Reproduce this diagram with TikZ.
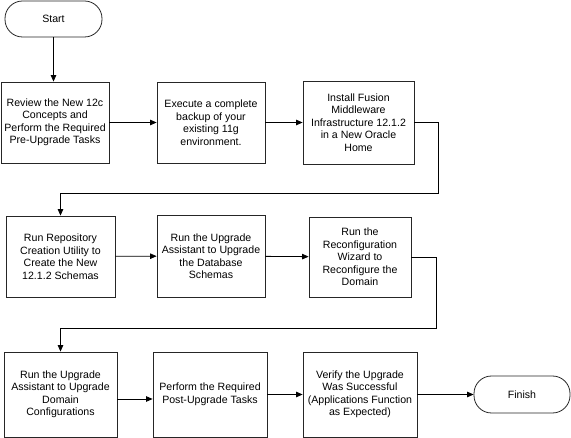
\documentclass[tikz,border=0pt]{standalone}
\usepackage{fontspec}
\setmainfont{Liberation Sans}
\usetikzlibrary{arrows.meta,shadows}
\tikzset{
  stepbox/.style={draw=black!85, line width=0.8pt, fill=white, rectangle, align=center, inner sep=0pt,
    font=\fontsize{10.6}{12.5}\selectfont,
    drop shadow={shadow xshift=1.2pt, shadow yshift=-1.2pt, fill=black!45, opacity=1}},
  term/.style={draw=black!85, line width=0.8pt, fill=white, rectangle, rounded corners=17.5pt, align=center,
    inner sep=0pt, font=\fontsize{10.6}{12.5}\selectfont},
  flow/.style={line width=0.8pt, -{Triangle[length=6.5pt,width=5.5pt]}},
}
\begin{document}
\begin{tikzpicture}[x=1pt,y=-1pt]
\useasboundingbox (0,0) rectangle (571,438);
\node[term, minimum width=97pt, minimum height=36pt] (start) at (53.5,19) {Start};
\node[stepbox, minimum width=108pt, minimum height=81pt] (b1) at (55,122.5) {Review the New 12c\\Concepts and\\Perform the Required\\Pre-Upgrade Tasks};
\node[stepbox, minimum width=108pt, minimum height=81pt] (b2) at (211,122.5) {Execute a complete\\backup of your\\existing 11g\\environment.};
\node[stepbox, minimum width=111pt, minimum height=83pt] (b3) at (358.5,122.5) {Install Fusion\\Middleware\\Infrastructure 12.1.2\\in a New Oracle\\Home};
\node[stepbox, minimum width=109pt, minimum height=81pt] (b4) at (60.5,256.5) {Run Repository\\Creation Utility to\\Create the New\\12.1.2 Schemas};
\node[stepbox, minimum width=108pt, minimum height=82pt] (b5) at (211,256) {Run the Upgrade\\Assistant to Upgrade\\the Database\\Schemas};
\node[stepbox, minimum width=102pt, minimum height=80pt] (b6) at (360,257) {Run the\\Reconfiguration\\Wizard to\\Reconfigure the\\Domain};
\node[stepbox, minimum width=113pt, minimum height=85pt] (b7) at (60.5,394.5) {Run the Upgrade\\Assistant to Upgrade\\Domain\\Configurations};
\node[stepbox, minimum width=114pt, minimum height=85pt] (b8) at (210,394.5) {Perform the Required\\Post-Upgrade Tasks};
\node[stepbox, minimum width=114pt, minimum height=85pt] (b9) at (360,394.5) {Verify the Upgrade\\Was Successful\\(Applications Function\\as Expected)};
\node[term, minimum width=96pt, minimum height=37pt] (finish) at (522,394.5) {Finish};
\coordinate (c1) at (438,193);
\coordinate (c2) at (436,328);
\draw[flow] (start.south) -- (start.south |- b1.north);
\draw[flow] (b1) -- (b2);
\draw[flow] (b2) -- (b3);
\draw[flow] (b3.east) -| (c1) -| (b4.north);
\draw[flow] (b4) -- (b5);
\draw[flow] (b5) -- (b6);
\draw[flow] (b6.east) -| (c2) -| (b7.north);
\draw[flow] ([yshift=-4.5pt]b7.east) -- ([yshift=-4.5pt]b7.east -| b8.west);
\draw[flow] (b8) -- (b9);
\draw[flow] (b9) -- (finish);
\end{tikzpicture}
\end{document}
